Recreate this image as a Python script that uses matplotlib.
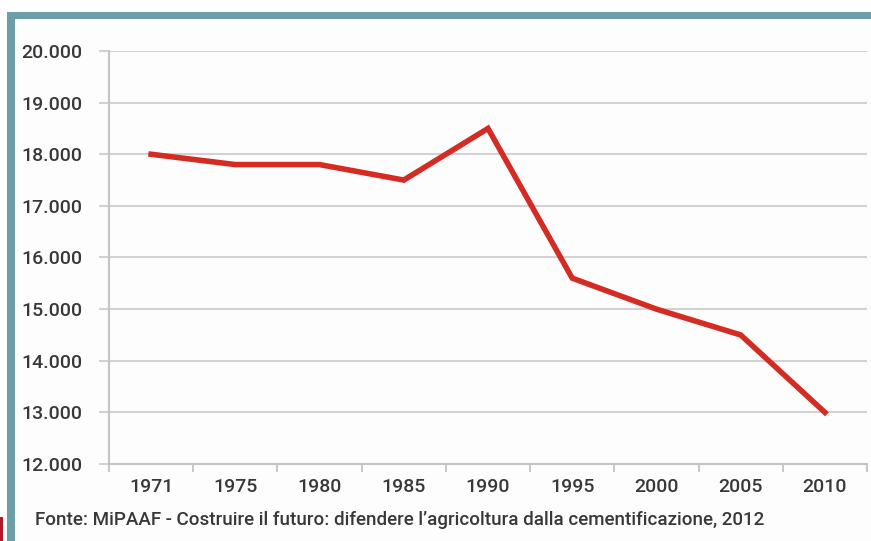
""" Superficie agricola: andamento 1971-2010 (fonte MiPAAF). """

import matplotlib
matplotlib.use("Agg")
import matplotlib.pyplot as plt
from matplotlib.patches import Rectangle
from matplotlib.ticker import FuncFormatter, FixedLocator

# Data.
years = ["1971", "1975", "1980", "1985", "1990", "1995", "2000", "2005", "2010"]
values = [18000, 17800, 17800, 17500, 18500, 15600, 15000, 14500, 13000]
y_ticks = [12000, 13000, 14000, 15000, 16000, 17000, 18000, 19000, 20000]
source = "Fonte: MiPAAF - Costruire il futuro: difendere l\u2019agricoltura dalla cementificazione, 2012"

plt.rcParams['font.family'] = ['Roboto', 'DejaVu Sans']
plt.rcParams['font.weight'] = 'medium'

fig = plt.figure(figsize=(8.71, 5.41), dpi=100)
fig.patch.set_facecolor("white")

# Frame: teal border on top and left, light panel inside.
W, H = 871, 541
fig.patches.append(Rectangle((15 / W, 0), 1, 1 - 19 / H, transform=fig.transFigure,
                             facecolor="#fdfdfd", edgecolor="none", zorder=-3))
fig.patches.append(Rectangle((7 / W, 1 - 19 / H), 1, 7 / H, transform=fig.transFigure,
                             facecolor="#6b9ea7", edgecolor="none", zorder=-2))
fig.patches.append(Rectangle((7 / W, 0), 8 / W, 1 - 12 / H, transform=fig.transFigure,
                             facecolor="#6b9ea7", edgecolor="none", zorder=-2))
fig.patches.append(Rectangle((0, 0), 3 / W, 24 / H, transform=fig.transFigure,
                             facecolor="#b3182b", edgecolor="none", zorder=-2))

ax = fig.add_axes([109 / W, 1 - 464 / H, (867 - 109) / W, (464 - 51) / H])
ax.set_facecolor("none")

x = range(len(years))
ax.plot(x, values, color="#d42b22", linewidth=4, solid_joinstyle="miter", zorder=3)

ax.set_xlim(-0.5, len(years) - 0.5)
ax.set_ylim(12000, 20000)

grid_col = "#d2d2d2"
text_col = "#383838"
ax.set_yticks(y_ticks)
ax.yaxis.set_major_formatter(FuncFormatter(lambda v, p: f"{int(v):,}".replace(",", ".")))
ax.grid(axis="y", color=grid_col, linewidth=1.5, zorder=1)
ax.tick_params(axis="y", length=7, width=1.5, color=grid_col, pad=12,
               labelsize=14, labelcolor=text_col)

ax.set_xticks(list(x))
ax.set_xticklabels(years)
ax.xaxis.set_minor_locator(FixedLocator([i - 0.5 for i in range(len(years) + 1)]))
ax.tick_params(axis="x", which="major", length=0, pad=10, labelsize=14, labelcolor=text_col)
ax.tick_params(axis="x", which="minor", length=6, width=1.2, color="#bdbdbd")

for s in ["top", "right"]:
    ax.spines[s].set_visible(False)
for s in ["left", "bottom"]:
    ax.spines[s].set_color("#c4c4c4")
    ax.spines[s].set_linewidth(1.5)

fig.text(35 / W, 1 - 520 / H, source, fontsize=13.5, color=text_col, va="center", ha="left")

fig.savefig("out.png", dpi=100, facecolor=fig.get_facecolor())
